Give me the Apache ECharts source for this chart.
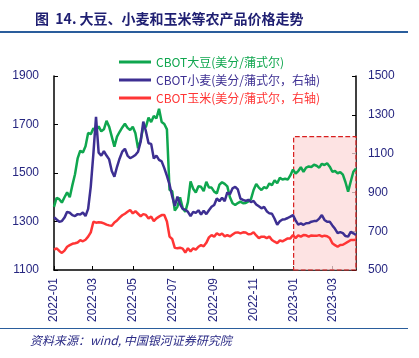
<!DOCTYPE html>
<html><head><meta charset="utf-8">
<script src="https://cdn.jsdelivr.net/npm/echarts@6/dist/echarts.min.js"></script>
<style>html,body{margin:0;padding:0;background:#fff}#c{width:419px;height:358px}</style>
</head><body><div id="c"></div>
<script>
const dates = [
'2022-01-01','2022-01-05','2022-01-09','2022-01-13','2022-01-17','2022-01-21','2022-01-25','2022-01-29',
'2022-02-02','2022-02-06','2022-02-10','2022-02-14','2022-02-18','2022-02-22','2022-02-26',
'2022-03-02','2022-03-06','2022-03-10','2022-03-14','2022-03-18','2022-03-22','2022-03-26','2022-03-30',
'2022-04-03','2022-04-07','2022-04-11','2022-04-15','2022-04-19','2022-04-23','2022-04-27',
'2022-05-01','2022-05-05','2022-05-09','2022-05-13','2022-05-17','2022-05-21','2022-05-25','2022-05-29',
'2022-06-02','2022-06-06','2022-06-10','2022-06-14','2022-06-18','2022-06-22','2022-06-26','2022-06-30',
'2022-07-04','2022-07-08','2022-07-12','2022-07-16','2022-07-20','2022-07-24','2022-07-28',
'2022-08-01','2022-08-05','2022-08-09','2022-08-13','2022-08-17','2022-08-21','2022-08-25','2022-08-29',
'2022-09-02','2022-09-06','2022-09-10','2022-09-14','2022-09-18','2022-09-22','2022-09-26','2022-09-30',
'2022-10-04','2022-10-08','2022-10-12','2022-10-16','2022-10-20','2022-10-24','2022-10-28',
'2022-11-01','2022-11-05','2022-11-09','2022-11-13','2022-11-17','2022-11-21','2022-11-25','2022-11-29',
'2022-12-03','2022-12-07','2022-12-11','2022-12-15','2022-12-19','2022-12-23','2022-12-27','2022-12-31',
'2023-01-04','2023-01-08','2023-01-12','2023-01-16','2023-01-20','2023-01-24','2023-01-28',
'2023-02-01','2023-02-05','2023-02-09','2023-02-13','2023-02-17','2023-02-21','2023-02-25',
'2023-03-01','2023-03-05','2023-03-09','2023-03-13','2023-03-17','2023-03-21','2023-03-25','2023-03-29',
'2023-04-02','2023-04-06'
];
// CBOT soybean, cents/bushel (left axis)
const soybean = [
1360,1398,1392,1378,1400,1420,1400,1450,1495,1560,1592,1585,1610,1665,1660,1684,1675,1692,1672,1680,1715,1691,1650,1609,1650,1670,1688,1703,1686,1677,
1691,1664,1602,1636,1690,1690,1728,1710,1735,1725,1765,1710,1702,1680,1430,1425,1345,1361,1400,1355,1340,1380,1465,1435,1420,1445,1443,1425,1464,
1440,1440,1423,1416,1452,1462,1455,1445,1400,1375,1368,1376,1382,1375,1376,1383,1392,1430,1455,1440,1430,1442,1437,1457,1450,1470,1458,1480,1473,
1476,1473,1490,1514,1498,1508,1524,1505,1522,1527,1525,1534,1530,1522,1538,1533,1540,1526,1505,1508,1499,1504,1493,1462,1423,1465,1505,1519
];
// CBOT wheat, cents/bushel (right axis)
const wheat = [
772,760,749,752,770,800,795,783,778,788,786,796,778,815,930,1100,1290,1105,1090,1112,1090,1070,1010,981,1032,1075,1110,1125,1090,1076,
1084,1093,1110,1161,1265,1215,1153,1150,1075,1090,1068,1060,1025,985,940,880,830,878,840,815,810,800,778,800,794,808,786,805,788,
808,826,835,869,855,872,855,900,890,921,929,915,868,861,856,862,850,856,838,828,818,825,803,792,790,764,733,751,760,
762,768,775,783,756,734,740,733,741,742,749,752,753,765,783,758,749,749,730,712,690,695,690,675,672,696,689,680
];
// CBOT corn, cents/bushel (right axis)
const corn = [
605,612,598,588,600,620,628,635,638,642,654,648,656,672,694,749,744,746,745,740,734,730,728,745,755,770,782,790,800,809,
792,803,790,777,788,784,766,775,752,766,775,783,783,750,672,660,614,612,615,610,590,612,596,612,605,620,628,622,640,
668,680,672,689,680,688,673,680,673,683,692,694,689,694,693,684,686,695,678,664,672,672,664,672,655,646,639,652,648,
655,663,663,680,664,679,672,680,679,672,678,676,676,680,673,677,674,665,638,628,620,629,630,638,646,655,655,656
];
const tickMonths = ['2022-01','2022-03','2022-05','2022-07','2022-09','2022-11','2023-01','2023-03'];
const seriesNames = ['CBOT大豆(美分/蒲式尔)','CBOT小麦(美分/蒲式尔，右轴)','CBOT玉米(美分/蒲式尔，右轴)'];
const colors = ['#0fa64e','#3d2f92','#ff3535'];
const xStart = '2022-01-01', xEnd = '2023-04-06';
const boxStart = '2023-01-01', boxLow = 1100, boxHigh = 1650;

function ts(s){const p=s.split('-').map(Number);return new Date(p[0],p[1]-1,p[2]||1).getTime();}
const tickTs = tickMonths.map(ts);
const navy = '#262680';
const font = '"Liberation Sans","Noto Sans CJK SC",sans-serif';
const plain = v => String(v);

const chart = echarts.init(document.getElementById('c'));
chart.setOption({
  animation:false,
  backgroundColor:'#fff',
  grid:{left:54,right:63,top:76,bottom:88},
  legend:{
    orient:'vertical', left:114, top:51, itemWidth:32, itemHeight:12, itemGap:6,
    icon:'path://M0,0L32,0L32,3L0,3Z', symbolKeepAspect:true,
    data: seriesNames.map((n,i)=>({name:n, textStyle:{color:colors[i]}})),
    textStyle:{fontSize:12, fontFamily:'"Noto Sans CJK SC",sans-serif'}
  },
  xAxis:{
    type:'value', min:ts(xStart), max:ts(xEnd),
    axisLine:{lineStyle:{color:'#000',width:1.5}},
    axisTick:{show:true, inside:true, length:4, lineStyle:{color:'#000'}, customValues:tickTs},
    axisLabel:{rotate:90, color:navy, fontSize:12, fontFamily:font, margin:8, customValues:tickTs,
      formatter:function(v){const d=new Date(v);return d.getFullYear()+'-'+String(d.getMonth()+1).padStart(2,'0');}},
    splitLine:{show:false}
  },
  yAxis:[
    {type:'value', min:1100, max:1900, interval:200, position:'left',
     axisLine:{show:true,lineStyle:{color:'#000',width:1.5}},
     axisTick:{show:true,inside:true,length:4,lineStyle:{color:'#000'}},
     axisLabel:{color:navy,fontSize:12,fontFamily:font,margin:15,formatter:plain},
     splitLine:{show:false}},
    {type:'value', min:500, max:1500, interval:200, position:'right',
     axisLine:{show:true,lineStyle:{color:'#000',width:1.5}},
     axisTick:{show:true,inside:true,length:4,lineStyle:{color:'#000'}},
     axisLabel:{color:navy,fontSize:12,fontFamily:font,margin:12,formatter:plain},
     splitLine:{show:false}}
  ],
  series:[
    {name:seriesNames[0], type:'line', yAxisIndex:0, showSymbol:false, symbol:'none',
     lineStyle:{color:colors[0],width:2.5}, itemStyle:{color:colors[0]},
     data: dates.map((d,i)=>[ts(d),soybean[i]]),
     markArea:{silent:true, z:1,
       itemStyle:{color:'rgba(252,218,218,0.75)', borderColor:'#d81e1e', borderWidth:1.2, borderType:'dashed'},
       data:[[{xAxis:ts(boxStart), yAxis:boxLow},{xAxis:ts(xEnd), yAxis:boxHigh}]]}},
    {name:seriesNames[1], type:'line', yAxisIndex:1, showSymbol:false, symbol:'none',
     lineStyle:{color:colors[1],width:2.5}, itemStyle:{color:colors[1]},
     data: dates.map((d,i)=>[ts(d),wheat[i]])},
    {name:seriesNames[2], type:'line', yAxisIndex:1, showSymbol:false, symbol:'none',
     lineStyle:{color:colors[2],width:2.5}, itemStyle:{color:colors[2]},
     data: dates.map((d,i)=>[ts(d),corn[i]])}
  ],
  graphic:[
    {type:'text', left:35, top:12, style:{text:'图  14. 大豆、小麦和玉米等农产品价格走势', font:'bold 14px "Noto Sans CJK SC",sans-serif', fill:'#1f1f72'}},
    {type:'line', shape:{x1:0,y1:32,x2:408,y2:32}, style:{stroke:'#2a5d9c',lineWidth:2}},
    {type:'line', shape:{x1:0,y1:328.5,x2:408,y2:328.5}, style:{stroke:'#2a5d9c',lineWidth:1.2}},
    {type:'text', left:30, top:334, style:{text:'资料来源：wind, 中国银河证券研究院', font:'italic 12px "Noto Sans CJK SC",sans-serif', fill:'#2b2b86'}}
  ]
});
</script></body></html>
